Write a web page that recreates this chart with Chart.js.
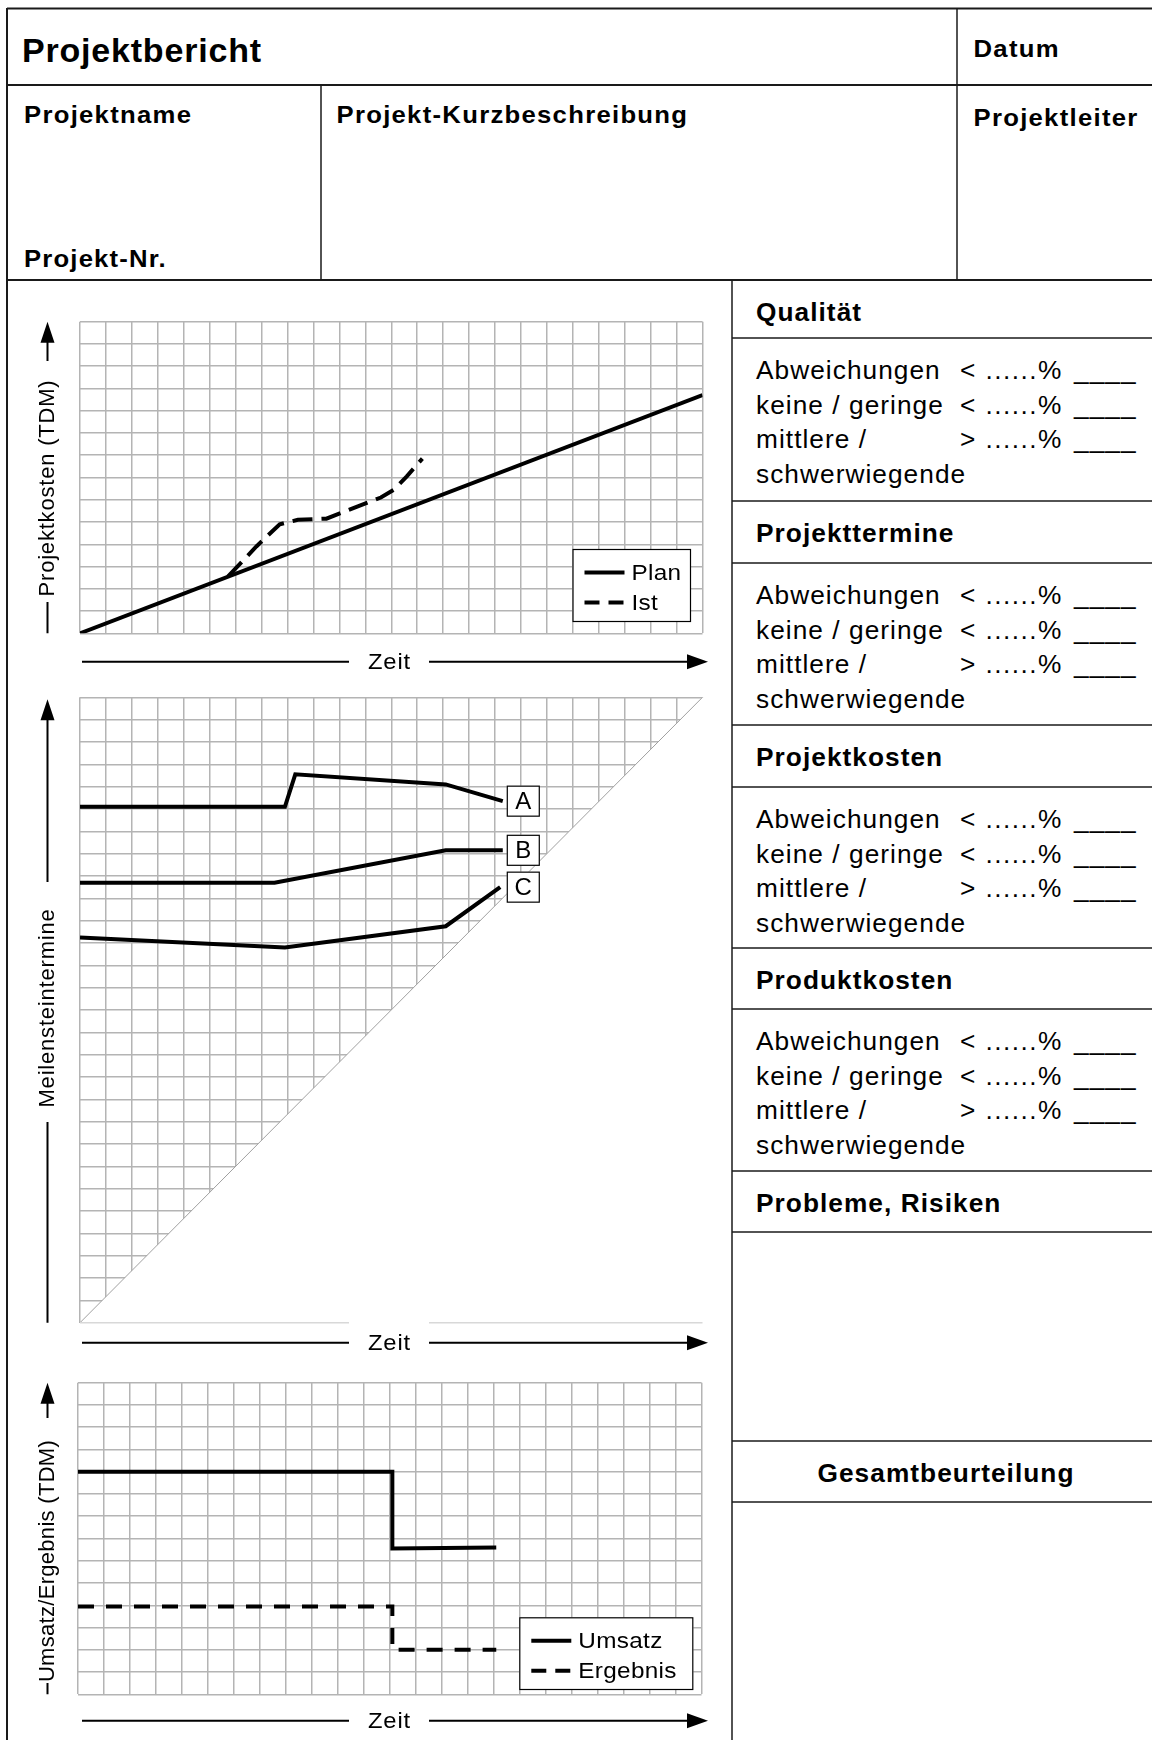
<!DOCTYPE html>
<html lang="de">
<head>
<meta charset="utf-8">
<title>Projektbericht</title>
<script src="https://cdn.jsdelivr.net/npm/chart.js@4.4.1/dist/chart.umd.min.js"></script>
<style>
  html, body { margin:0; padding:0; background:#fff; }
  body { position:relative; width:1152px; height:1740px; overflow:hidden; font-family:"Liberation Sans", Arial, sans-serif; }
  svg#frame { position:absolute; left:0; top:0; }
  canvas { position:absolute; left:0; }
</style>
</head>
<body>
<svg id="frame" width="1152" height="1740" xmlns="http://www.w3.org/2000/svg" font-family="Liberation Sans, Arial, sans-serif" fill="#000"></svg>
<canvas id="c1" width="725" height="398" style="top:292px"></canvas>
<canvas id="c2" width="725" height="675" style="top:690px"></canvas>
<canvas id="c3" width="725" height="375" style="top:1365px"></canvas>
<script>
// ================= DATA =================
// Chart 1: Projektkosten (TDM) over Zeit
const zeitMax = 24;
const kostenMax = 14;
const planZeit = [0, 24];
const planKosten = [0, 10.7];
const istZeit = [5.7, 6.8, 7.7, 8.4, 9.5, 11.6, 12.1, 12.6, 13.2];
const istKosten = [2.55, 3.9, 4.9, 5.1, 5.15, 6.1, 6.45, 7.05, 7.85];
const kostenLabels = ['Plan', 'Ist'];

// Chart 2: Meilensteintermine over Zeit
const msMax = 28;
const msLabels = ['A', 'B', 'C'];
const msAZeit = [0, 7.9, 8.3, 14.1, 16.3];
const msA = [23.1, 23.1, 24.55, 24.1, 23.35];
const msBZeit = [0, 7.5, 14.1, 16.3];
const msB = [19.7, 19.7, 21.15, 21.15];
const msCZeit = [0, 7.9, 14.1, 16.2];
const msC = [17.25, 16.8, 17.75, 19.5];

// Chart 3: Umsatz/Ergebnis (TDM) over Zeit
const umsatzMax = 14;
const umsatzZeit = [0, 12.1, 12.1, 16.1];
const umsatz = [10, 10, 6.55, 6.6];
const ergebnisZeit = [0, 12.1, 12.1, 16.1];
const ergebnis = [3.95, 3.95, 2.0, 2.0];
const umsatzLabels = ['Umsatz', 'Ergebnis'];

// ================= FORM FRAME (SVG) =================
const NS = 'http://www.w3.org/2000/svg';
const svg = document.getElementById('frame');
function L(x1, y1, x2, y2, w) {
  const e = document.createElementNS(NS, 'line');
  e.setAttribute('x1', x1); e.setAttribute('y1', y1);
  e.setAttribute('x2', x2); e.setAttribute('y2', y2);
  e.setAttribute('stroke', '#1a1a1a'); e.setAttribute('stroke-width', w || 1.5);
  svg.appendChild(e);
}
function TX(str, x, y, size, bold, ls, sx, anchor) {
  const e = document.createElementNS(NS, 'text');
  e.setAttribute('x', 0); e.setAttribute('y', 0);
  e.setAttribute('transform', 'translate(' + x + ',' + y + ') scale(' + sx + ',1)');
  e.setAttribute('font-size', size);
  if (bold) e.setAttribute('font-weight', 'bold');
  e.setAttribute('letter-spacing', ls);
  if (anchor) e.setAttribute('text-anchor', anchor);
  e.textContent = str;
  svg.appendChild(e);
}
L(7, 8.5, 1152, 8.5, 2);
L(7, 8, 7, 1740, 2);
L(7, 85, 1152, 85, 2);
L(7, 280, 1152, 280, 2);
L(321, 85, 321, 280, 1.5);
L(957, 8, 957, 280, 1.5);
L(732, 280, 732, 1740, 1.5);

TX('Projektbericht', 22, 61.7, 34, true, 0.8, 1.0);
TX('Datum', 973.5, 57.3, 24, true, 1.2, 1.07);
TX('Projektname', 24, 122.7, 24, true, 1.2, 1.07);
TX('Projekt-Kurzbeschreibung', 336.5, 122.7, 24, true, 1.2, 1.07);
TX('Projektleiter', 973.5, 126, 24, true, 1.2, 1.07);
TX('Projekt-Nr.', 24, 266.7, 24, true, 1.1, 1.07);

const sections = [
  { title: 'Qualität', top: 280, hb: 338, rows: true },
  { title: 'Projekttermine', top: 501, hb: 563, rows: true },
  { title: 'Projektkosten', top: 725, hb: 787, rows: true },
  { title: 'Produktkosten', top: 948, hb: 1009, rows: true },
  { title: 'Probleme, Risiken', top: 1171, hb: 1232 },
  { title: 'Gesamtbeurteilung', top: 1441, hb: 1502, center: true }
];
const rowText = [
  ['Abweichungen', '< ......%', '____'],
  ['keine / geringe', '< ......%', '____'],
  ['mittlere /', '> ......%', '____'],
  ['schwerwiegende', '', '']
];
sections.forEach(s => {
  if (s.top !== 280) L(732, s.top, 1152, s.top, 1.5);
  L(732, s.hb, 1152, s.hb, 1.5);
  if (s.center) TX(s.title, 946, s.top + 40.7, 25, true, 1.0, 1.05, 'middle');
  else TX(s.title, 756, s.top + 40.7, 25, true, 1.0, 1.05);
  if (s.rows) {
    rowText.forEach((r, k) => {
      const y = s.hb + 41.3 + k * 34.4;
      TX(r[0], 756, y, 25, false, 1.0, 1.05);
      if (r[1]) TX(r[1], 960, y, 25, false, 1.4, 1.05);
      if (r[2]) TX(r[2], 1074, y, 25, false, 1.0, 1.05);
    });
  }
});

// ================= CHARTS =================
const FONT = '"Liberation Sans", Arial, sans-serif';
const GRID = '#b4b4b4';
function setLS(ctx, v) { if ('letterSpacing' in ctx) ctx.letterSpacing = v + 'px'; }
function pts(xs, ys) { return xs.map((x, i) => ({ x: x, y: ys[i] })); }
function drawText(ctx, str, x, y, size, ls, sx, align) {
  ctx.save();
  ctx.translate(x, y); ctx.scale(sx, 1);
  ctx.font = size + 'px ' + FONT; setLS(ctx, ls);
  ctx.textAlign = align; ctx.textBaseline = 'middle';
  ctx.fillText(str, 0, 0);
  setLS(ctx, 0);
  ctx.restore();
}
function arrowHead(ctx, tx, ty, dir) {
  ctx.beginPath();
  if (dir === 'up') { ctx.moveTo(tx, ty); ctx.lineTo(tx - 7, ty + 21); ctx.lineTo(tx + 7, ty + 21); }
  else { ctx.moveTo(tx, ty); ctx.lineTo(tx - 21, ty - 7.5); ctx.lineTo(tx - 21, ty + 7.5); }
  ctx.closePath(); ctx.fill();
}

const formPlugin = {
  id: 'form',
  beforeDatasetsDraw(chart, args, o) {
    if (!o.triangle) return;
    const { ctx, scales: { x, y } } = chart;
    const x0 = x.getPixelForValue(x.min), x1 = x.getPixelForValue(x.max);
    const y0 = y.getPixelForValue(y.min), y1 = y.getPixelForValue(y.max);
    ctx.save();
    ctx.fillStyle = '#fff';
    ctx.beginPath();
    ctx.moveTo(x0, y0); ctx.lineTo(x1, y1); ctx.lineTo(x1 + 3, y1);
    ctx.lineTo(x1 + 3, y0 + 3); ctx.lineTo(x0, y0 + 3); ctx.closePath(); ctx.fill();
    ctx.strokeStyle = '#a0a0a0'; ctx.lineWidth = 1;
    ctx.beginPath(); ctx.moveTo(x0, y0); ctx.lineTo(x1, y1); ctx.stroke();
    ctx.strokeStyle = '#d8d8d8'; ctx.lineWidth = 1.5;
    ctx.beginPath(); ctx.moveTo(x0, y0); ctx.lineTo(349, y0); ctx.moveTo(429, y0); ctx.lineTo(x1, y0); ctx.stroke();
    ctx.restore();
  },
  afterDraw(chart, args, o) {
    const { ctx, chartArea: a } = chart;
    const T = v => v - o.top;
    ctx.save();
    ctx.strokeStyle = '#000'; ctx.fillStyle = '#000'; ctx.lineWidth = 2; ctx.setLineDash([]);
    // y axis arrow + title
    const ax = 47.5;
    const tip = a.top + (o.tipOffset || 0);
    ctx.beginPath();
    ctx.moveTo(ax, a.bottom); ctx.lineTo(ax, T(o.yBotStart));
    ctx.moveTo(ax, T(o.yTopEnd)); ctx.lineTo(ax, tip + 18);
    ctx.stroke();
    arrowHead(ctx, ax, tip, 'up');
    ctx.save();
    ctx.translate(ax, T(o.yTitleCenter)); ctx.rotate(-Math.PI / 2);
    drawText(ctx, o.yTitle, 0, 0, 22, o.yTitleLS, 1.0, 'center');
    ctx.restore();
    // x axis arrow + "Zeit"
    const zy = T(o.zeitY);
    ctx.beginPath();
    ctx.moveTo(82, zy); ctx.lineTo(349, zy);
    ctx.moveTo(429, zy); ctx.lineTo(690, zy);
    ctx.stroke();
    arrowHead(ctx, 708, zy, 'right');
    drawText(ctx, 'Zeit', 389.5, zy + 1, 22, 0.8, 1.08, 'center');
    // legend
    if (o.legend) {
      const Lg = o.legend;
      const bx = Lg.right - Lg.width, by = T(Lg.bottom) - Lg.height;
      ctx.fillStyle = '#fff'; ctx.fillRect(bx, by, Lg.width, Lg.height);
      ctx.strokeStyle = '#000'; ctx.lineWidth = 1.2;
      ctx.strokeRect(bx + 0.5, by + 0.5, Lg.width - 1, Lg.height - 1);
      chart.data.datasets.forEach((ds, i) => {
        const yy = by + 23.5 + i * 30;
        ctx.strokeStyle = '#000'; ctx.lineWidth = 4;
        ctx.setLineDash(ds.borderDash ? Lg.dash : []);
        ctx.beginPath(); ctx.moveTo(bx + 12, yy); ctx.lineTo(bx + 52, yy); ctx.stroke();
        ctx.setLineDash([]);
        ctx.fillStyle = '#000';
        drawText(ctx, ds.label, bx + 59, yy + 1, 22.5, 0.3, 1.08, 'left');
      });
    }
    // end labels (A, B, C)
    if (o.endLabels) {
      let lx = 0;
      chart.data.datasets.forEach((ds, i) => {
        const d = chart.getDatasetMeta(i).data; lx = Math.max(lx, d[d.length - 1].x);
      });
      chart.data.datasets.forEach((ds, i) => {
        const d = chart.getDatasetMeta(i).data; const p = d[d.length - 1];
        const bx = lx + 4, by = p.y - 15.5;
        ctx.fillStyle = '#fff'; ctx.fillRect(bx, by, 33, 31);
        ctx.strokeStyle = '#000'; ctx.lineWidth = 1.2; ctx.setLineDash([]);
        ctx.strokeRect(bx + 0.5, by + 0.5, 32, 30);
        ctx.fillStyle = '#000';
        drawText(ctx, ds.label, bx + 16.5, by + 17, 24, 0, 1.0, 'center');
      });
    }
    ctx.restore();
  }
};

function axis(max) {
  return {
    type: 'linear', min: 0, max: max,
    ticks: { display: false, stepSize: 1, maxTicksLimit: 1000 },
    grid: { color: GRID, lineWidth: 1.5, drawTicks: false },
    border: { display: false }
  };
}
function makeChart(id, datasets, ymax, padding, form) {
  const xs = axis(zeitMax); xs.afterFit = s => { s.height = 0; };
  const ys = axis(ymax); ys.afterFit = s => { s.width = 0; };
  return new Chart(document.getElementById(id), {
    type: 'line',
    data: { datasets: datasets },
    options: {
      responsive: false, animation: false, devicePixelRatio: 1, events: [],
      layout: { padding: padding },
      scales: { x: xs, y: ys },
      elements: {
        point: { radius: 0 },
        line: { tension: 0, borderCapStyle: 'butt', borderJoinStyle: 'miter', fill: false }
      },
      plugins: { legend: { display: false }, tooltip: { enabled: false }, form: form }
    },
    plugins: [formPlugin]
  });
}

// Chart 1
makeChart('c1', [
  { label: kostenLabels[0], data: pts(planZeit, planKosten), borderColor: '#000', borderWidth: 4 },
  { label: kostenLabels[1], data: pts(istZeit, istKosten), borderColor: '#000', borderWidth: 4, borderDash: [20, 9] }
], kostenMax, { left: 80, right: 22.5, top: 29.7, bottom: 56.7 }, {
  top: 292, yTitle: 'Projektkosten (TDM)', yTitleLS: 0.8, yTitleCenter: 488, yTopEnd: 361, yBotStart: 602,
  zeitY: 661.7,
  legend: { right: 691, bottom: 622, width: 118.5, height: 73, dash: [15, 9] }
});

// Chart 2
makeChart('c2', [
  { label: msLabels[0], data: pts(msAZeit, msA), borderColor: '#000', borderWidth: 4 },
  { label: msLabels[1], data: pts(msBZeit, msB), borderColor: '#000', borderWidth: 4 },
  { label: msLabels[2], data: pts(msCZeit, msC), borderColor: '#000', borderWidth: 4 }
], msMax, { left: 80, right: 22.5, top: 7.3, bottom: 42.3 }, {
  top: 690, yTitle: 'Meilensteintermine', yTitleLS: 0.8, yTitleCenter: 1008, yTopEnd: 882, yBotStart: 1122,
  tipOffset: 2, zeitY: 1342.7, triangle: true, endLabels: true
});

// Chart 3
makeChart('c3', [
  { label: umsatzLabels[0], data: pts(umsatzZeit, umsatz), borderColor: '#000', borderWidth: 4 },
  { label: umsatzLabels[1], data: pts(ergebnisZeit, ergebnis), borderColor: '#000', borderWidth: 4, borderDash: [16, 12] }
], umsatzMax, { left: 78, right: 23.5, top: 17.7, bottom: 45.7 }, {
  top: 1365, yTitle: 'Umsatz/Ergebnis (TDM)', yTitleLS: 0.3, yTitleCenter: 1561, yTopEnd: 1418, yBotStart: 1683,
  zeitY: 1720.7,
  legend: { right: 693.3, bottom: 1690, width: 174, height: 72.7, dash: [15, 9] }
});
</script>
</body>
</html>
